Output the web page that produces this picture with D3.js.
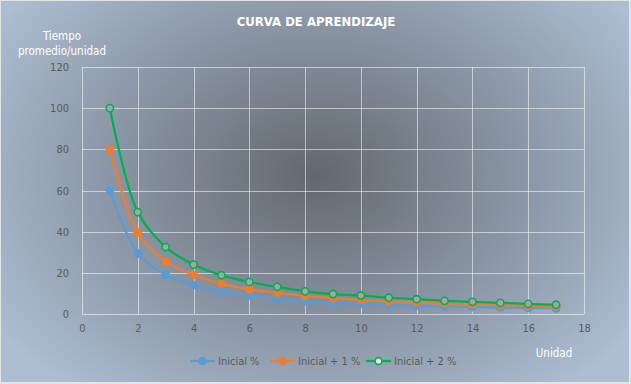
<!DOCTYPE html>
<html>
<head>
<meta charset="utf-8">
<script src="https://cdn.jsdelivr.net/npm/d3@7"></script>
<style>
  body { margin: 0; background: #fff; }
  svg text { font-family: "DejaVu Sans Condensed", "Liberation Sans", sans-serif; }
</style>
</head>
<body>
<svg id="chart" width="631" height="384"></svg>
<script>
// data
const units = [1, 2, 3, 4, 5, 6, 7, 8, 9, 10, 11, 12, 13, 14, 15, 16, 17];
const inicial = [60, 29.5, 19, 14, 11, 9, 7.5, 6.3, 5.5, 5, 4.4, 4, 3.7, 3.4, 3.1, 2.9, 2.7];
const inicial1 = [80, 39.5, 25.6, 19, 14.8, 12, 10.3, 8.8, 7.7, 6.8, 6.2, 5.6, 5.1, 4.7, 4.3, 4.0, 3.7];
const inicial2 = [100, 49.5, 32.5, 24, 18.8, 15.6, 13.2, 11, 9.7, 9, 7.9, 7.2, 6.4, 5.9, 5.4, 4.9, 4.5];
const seriesNames = ['Inicial %', 'Inicial + 1 %', 'Inicial + 2 %'];
const xTicks = [0, 2, 4, 6, 8, 10, 12, 14, 16, 18];
const yTicks = [0, 20, 40, 60, 80, 100, 120];

const series = [
  { name: seriesNames[0], values: inicial, color: '#5b9bd5', hollow: false },
  { name: seriesNames[1], values: inicial1, color: '#ed7d31', hollow: false },
  { name: seriesNames[2], values: inicial2, color: '#00b050', hollow: true },
];

const W = 631, H = 384;
const svg = d3.select('#chart');

// background radial gradient
const defs = svg.append('defs');
const grad = defs.append('radialGradient')
  .attr('id', 'bg')
  .attr('gradientUnits', 'userSpaceOnUse')
  .attr('cx', 316).attr('cy', 175).attr('r', 380)
  .attr('gradientTransform', 'translate(316,175) scale(1,0.75) translate(-316,-175)');
grad.append('stop').attr('offset', '0%').attr('stop-color', '#62686f');
grad.append('stop').attr('offset', '100%').attr('stop-color', '#adbdd2');

svg.append('rect').attr('x', 0).attr('y', 0).attr('width', W).attr('height', H).attr('fill', '#e4e4e4');
svg.append('rect').attr('x', 1).attr('y', 1).attr('width', W - 3).attr('height', H - 3).attr('fill', 'url(#bg)');

// scales
const x = d3.scaleLinear().domain([0, 18]).range([82, 584]);
const y = d3.scaleLinear().domain([0, 120]).range([314, 67]);

// grid
const grid = svg.append('g').attr('stroke', '#ffffff').attr('stroke-opacity', 0.55).attr('stroke-width', 1);
grid.selectAll('.gx').data(xTicks).join('line')
  .attr('x1', d => Math.round(x(d)) + 0.5).attr('x2', d => Math.round(x(d)) + 0.5)
  .attr('y1', y(0)).attr('y2', y(120));
grid.selectAll('.gy').data(yTicks).join('line')
  .attr('x1', x(0)).attr('x2', x(18))
  .attr('y1', d => Math.round(y(d)) + 0.5).attr('y2', d => Math.round(y(d)) + 0.5);

// axes (labels only, Excel style)
const xAxis = svg.append('g')
  .attr('transform', 'translate(0,' + (y(0) + 7) + ')')
  .call(d3.axisBottom(x).tickValues(xTicks).tickSize(0));
xAxis.select('.domain').remove();
xAxis.selectAll('text').attr('fill', '#595959').attr('font-size', 11);

const yAxis = svg.append('g')
  .attr('transform', 'translate(' + (x(0) - 10) + ',0)')
  .call(d3.axisLeft(y).tickValues(yTicks).tickSize(0));
yAxis.select('.domain').remove();
yAxis.selectAll('text').attr('fill', '#595959').attr('font-size', 11);

// lines
const line = d3.line()
  .x((d, i) => x(units[i]))
  .y(d => y(d))
  .curve(d3.curveCatmullRom.alpha(0.5));

series.forEach(s => {
  svg.append('path')
    .datum(s.values)
    .attr('fill', 'none')
    .attr('stroke', s.color)
    .attr('stroke-width', 2.25)
    .attr('d', line);
});
series.forEach(s => {
  svg.append('g').selectAll('circle').data(s.values).join('circle')
    .attr('cx', (d, i) => x(units[i]))
    .attr('cy', d => y(d))
    .attr('r', s.hollow ? 3.6 : 4)
    .attr('fill', s.hollow ? '#a3a6aa' : s.color)
    .attr('stroke', s.color)
    .attr('stroke-width', s.hollow ? 1.6 : 1);
});

// title and axis titles
svg.append('text').attr('x', 316).attr('y', 26).attr('text-anchor', 'middle')
  .attr('fill', '#ffffff').attr('font-size', 13).attr('font-weight', 'bold')
  .text('CURVA DE APRENDIZAJE');
svg.append('text').attr('x', 62).attr('y', 40).attr('text-anchor', 'middle')
  .attr('fill', '#ffffff').attr('font-size', 11.5).text('Tiempo');
svg.append('text').attr('x', 62).attr('y', 55).attr('text-anchor', 'middle')
  .attr('fill', '#ffffff').attr('font-size', 11.5).text('promedio/unidad');
svg.append('text').attr('x', 554).attr('y', 357).attr('text-anchor', 'middle')
  .attr('fill', '#ffffff').attr('font-size', 11.5).text('Unidad');

// legend
const legendX = [190, 270, 366];
const legend = svg.append('g');
series.forEach((s, i) => {
  const g = legend.append('g').attr('transform', 'translate(' + legendX[i] + ',361)');
  g.append('line').attr('x1', 0).attr('x2', 25).attr('y1', 0).attr('y2', 0)
    .attr('stroke', s.color).attr('stroke-width', 2.25);
  g.append('circle').attr('cx', 12.5).attr('cy', 0).attr('r', s.hollow ? 3.4 : 3.8)
    .attr('fill', s.hollow ? '#e8ecef' : s.color).attr('stroke', s.color)
    .attr('stroke-width', s.hollow ? 1.6 : 1);
  g.append('text').attr('x', 28).attr('y', 4).attr('fill', '#595959')
    .attr('font-size', 11).text(s.name);
});
</script>
</body>
</html>
